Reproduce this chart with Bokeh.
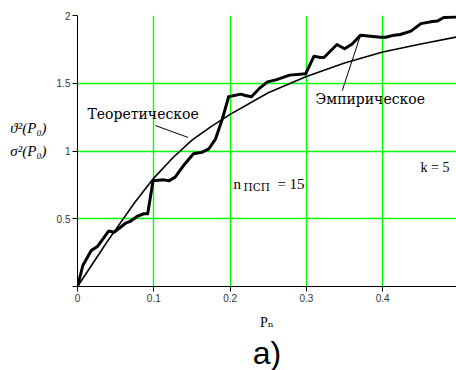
from bokeh.plotting import figure
from bokeh.models import Range1d, Label, FixedTicker, Title
from bokeh.embed import file_html
from bokeh.resources import INLINE

# Theoretical curve
theo_p = [0, 0.01, 0.02, 0.03, 0.04, 0.05, 0.075, 0.1, 0.125, 0.15, 0.175, 0.2,
          0.25, 0.3, 0.35, 0.4, 0.45, 0.5]
theo_v = [0, 0.085, 0.17, 0.255, 0.34, 0.42, 0.62, 0.80, 0.95, 1.08, 1.18, 1.27,
          1.43, 1.55, 1.65, 1.73, 1.79, 1.845]

# Empirical curve
emp_p = [0, 0.007, 0.018, 0.026, 0.041, 0.048, 0.063, 0.069, 0.078, 0.087, 0.092,
         0.099, 0.113, 0.120, 0.128, 0.139, 0.152, 0.163, 0.172, 0.181, 0.190,
         0.198, 0.214, 0.220, 0.228, 0.238, 0.249, 0.260, 0.278, 0.299, 0.310,
         0.318, 0.323, 0.340, 0.350, 0.360, 0.371, 0.397, 0.404, 0.415, 0.423,
         0.437, 0.450, 0.465, 0.472, 0.480, 0.497]
emp_v = [0, 0.155, 0.265, 0.295, 0.41, 0.40, 0.467, 0.48, 0.517, 0.537, 0.537,
         0.78, 0.787, 0.78, 0.807, 0.893, 0.98, 0.99, 1.015, 1.09, 1.24,
         1.40, 1.42, 1.41, 1.40, 1.46, 1.51, 1.525, 1.56, 1.57, 1.70,
         1.69, 1.69, 1.786, 1.755, 1.79, 1.855, 1.84, 1.84, 1.855, 1.86,
         1.885, 1.94, 1.955, 1.96, 1.985, 1.99]

x_ticks = [0, 0.1, 0.2, 0.3, 0.4, 0.5]
y_ticks = [0, 0.5, 1, 1.5, 2]

serif = "Liberation Serif, DejaVu Serif"
cyr = "DejaVu Serif"

p = figure(width=456, height=370, output_backend="svg", toolbar_location=None,
           x_range=Range1d(0, 0.4967), y_range=Range1d(0, 2),
           min_border_left=77, min_border_right=0, min_border_top=15,
           min_border_bottom=84, background_fill_color="white",
           border_fill_color="white", outline_line_color=None)

p.xaxis.ticker = FixedTicker(ticks=x_ticks)
p.yaxis.ticker = FixedTicker(ticks=y_ticks)
p.yaxis.major_label_overrides = {0: ""}
for ax in (p.xaxis[0], p.yaxis[0]):
    ax.axis_line_color = "black"
    ax.axis_line_width = 1
    ax.major_tick_line_color = "black"
    ax.major_tick_out = 5
    ax.major_tick_in = 0
    ax.minor_tick_line_color = None
    ax.major_label_text_font = "Liberation Sans"
    ax.major_label_text_font_size = "10px"
    ax.major_label_text_color = "#333333"
    ax.major_label_standoff = 2
    ax.axis_label_text_color = "black"
    ax.axis_label_text_font = serif

p.yaxis.axis_label = "ϑ²(P₀)\nσ²(P₀)\n "
p.yaxis.axis_label_orientation = "horizontal"
p.yaxis.axis_label_text_font_size = "15px"
p.yaxis.axis_label_text_font_style = "italic"
p.yaxis.axis_label_text_line_height = 1.45
p.yaxis.axis_label_standoff = 7

p.xaxis.axis_label = "Pₙ"
p.xaxis.axis_label_text_font_size = "14px"
p.xaxis.axis_label_text_font_style = "normal"
p.xaxis.axis_label_standoff = 10

p.add_layout(Title(text="a)", align="center", text_font="Liberation Sans",
                   text_font_size="32px", text_font_style="normal",
                   text_color="black", standoff=0), "below")

p.xgrid.grid_line_color = "#00ff00"
p.ygrid.grid_line_color = "#00ff00"
p.xgrid.grid_line_width = 1.4
p.ygrid.grid_line_width = 1.4

p.line(theo_p, theo_v, line_color="black", line_width=1.6, line_join="round")
p.line(emp_p, emp_v, line_color="black", line_width=3, line_join="round")

# leader lines for annotations
lead_x0 = [0.102, 0.347]
lead_y0 = [1.188, 1.446]
lead_x1 = [0.145, 0.371]
lead_y1 = [1.10, 1.857]
p.segment(lead_x0, lead_y0, lead_x1, lead_y1, line_color="black", line_width=1)


def lab(x, y, text, size, font=serif, style="normal", align="left"):
    p.add_layout(Label(x=x, y=y, text=text, text_font=font,
                       text_font_size=size, text_font_style=style,
                       text_align=align, text_baseline="middle",
                       text_color="black"))

lab(0.0131, 1.273, "Теоретическое", "14px", font=cyr)
lab(0.312, 1.387, "Эмпирическое", "14px", font=cyr)
lab(0.4495, 0.878, "k = 5", "14px")
lab(0.2044, 0.753, "n", "15px")
lab(0.2176, 0.731, "ПСП", "10.5px", font=cyr)
lab(0.2620, 0.753, "= 15", "15px")

open("out.html", "w").write(file_html(p, INLINE))
